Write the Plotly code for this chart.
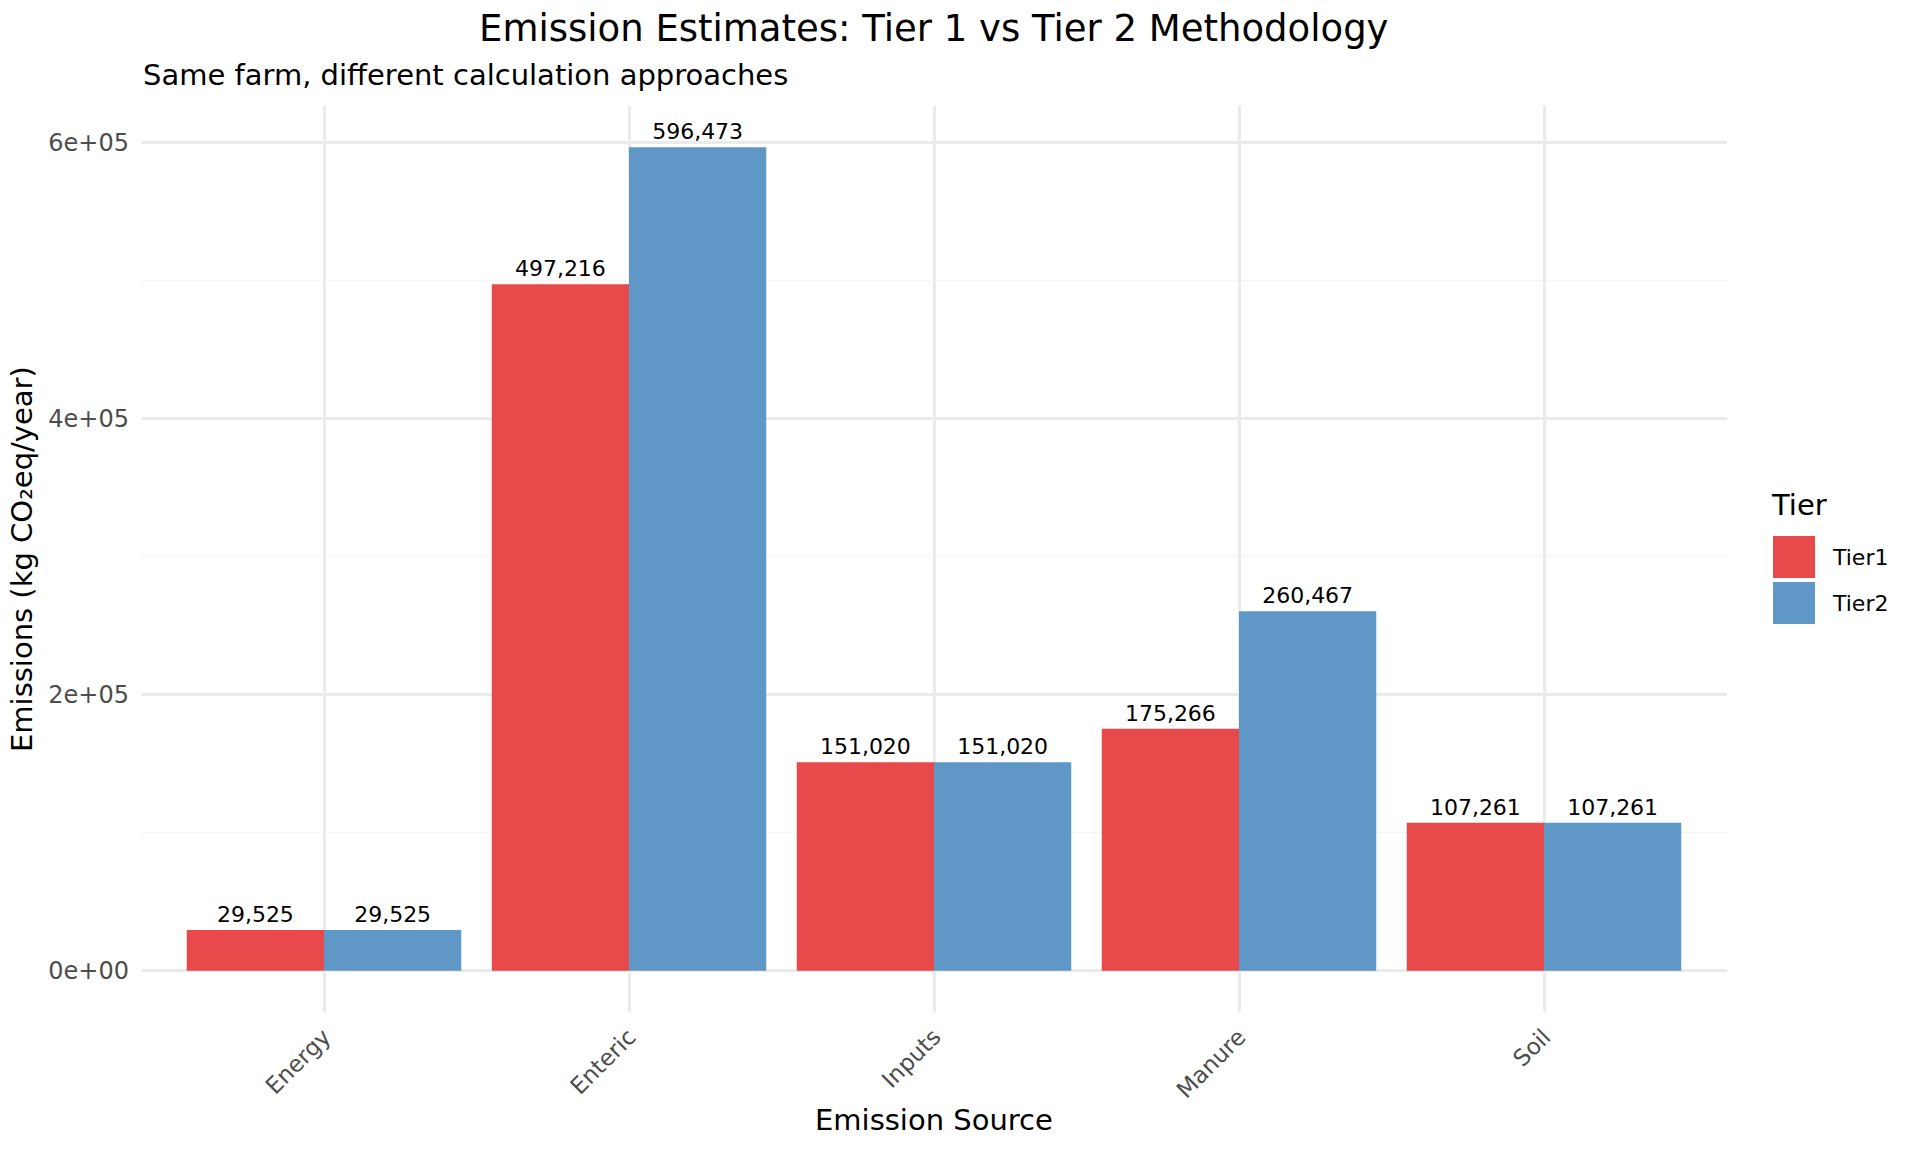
import plotly.graph_objects as go

# ---- data ----
sources = ["Energy", "Enteric", "Inputs", "Manure", "Soil"]
tier_names = ["Tier1", "Tier2"]
tier1_values = [29525, 497216, 151020, 175266, 107261]
tier2_values = [29525, 596473, 151020, 260467, 107261]
y_tick_vals = [0, 200000, 400000, 600000]
y_tick_text = ["0e+00", "2e+05", "4e+05", "6e+05"]
y_minor_vals = [100000, 300000, 500000]

title_text = "Emission Estimates: Tier 1 vs Tier 2 Methodology"
subtitle_text = "Same farm, different calculation approaches"
x_title = "Emission Source"
y_title = "Emissions (kg CO\u2082eq/year)"
legend_title = "Tier"

# ---- style ----
W, H = 1920, 1152
L, R, T, B = 141, 193, 106, 140
PW, PH = W - L - R, H - T - B
FONT = "DejaVu Sans"
colors = ["#E8494A", "#5F97C6"]
GRID = "#EBEBEB"

def px_x(x):
    return (x - L) / PW

def px_y(y):
    return 1 - (y - T) / PH

fig = go.Figure()
for name, vals, col in zip(tier_names, [tier1_values, tier2_values], colors):
    fig.add_trace(go.Bar(
        x=sources, y=vals, name=name,
        marker=dict(color=col, line=dict(width=0)),
        texttemplate="%{y:,}", textposition="outside",
        textfont=dict(family=FONT, size=22, color="#000000"),
        cliponaxis=False, showlegend=False,
    ))

ymax = max(tier1_values + tier2_values)
pad = 0.05 * ymax

fig.update_layout(
    width=W, height=H,
    margin=dict(l=L, r=R, t=T, b=B, autoexpand=False),
    paper_bgcolor="white", plot_bgcolor="white",
    barmode="group", bargap=0.1, bargroupgap=0,
    font=dict(family=FONT, color="#000000"),
    showlegend=False,
)
fig.update_xaxes(
    range=[-0.6, len(sources) - 0.4],
    showgrid=True, gridcolor=GRID, gridwidth=2.5,
    showline=False, zeroline=False, ticks="",
    tickangle=-45,
    tickfont=dict(family=FONT, size=23, color="#4D4D4D"),
    ticklabelstandoff=6,
)
fig.update_yaxes(
    range=[-pad, ymax + pad],
    tickmode="array", tickvals=y_tick_vals, ticktext=y_tick_text,
    showgrid=True, gridcolor=GRID, gridwidth=2.5,
    minor=dict(tickmode="array", tickvals=y_minor_vals,
               showgrid=True, gridcolor="#F4F4F4", gridwidth=1.3, ticks=""),
    showline=False, zeroline=False, ticks="",
    tickfont=dict(family=FONT, size=24, color="#4D4D4D"),
    ticklabelstandoff=11,
)

ann = []
ann.append(dict(text=title_text, xref="paper", yref="paper",
                x=0.5, y=px_y(29), xanchor="center", yanchor="middle",
                showarrow=False, font=dict(family=FONT, size=37, color="#000000")))
ann.append(dict(text=subtitle_text, xref="paper", yref="paper",
                x=0, y=px_y(75), xanchor="left", yanchor="middle",
                showarrow=False, font=dict(family=FONT, size=29, color="#000000")))
ann.append(dict(text=x_title, xref="paper", yref="paper",
                x=0.5, y=px_y(1120), xanchor="center", yanchor="middle",
                showarrow=False, font=dict(family=FONT, size=29, color="#000000")))
ann.append(dict(text=y_title, xref="paper", yref="paper",
                x=px_x(22), y=0.5, xanchor="center", yanchor="middle", textangle=-90,
                showarrow=False, font=dict(family=FONT, size=29, color="#000000")))
ann.append(dict(text=legend_title, xref="paper", yref="paper",
                x=px_x(1769), y=px_y(505), xanchor="left", yanchor="middle",
                showarrow=False, font=dict(family=FONT, size=29, color="#000000")))

shapes = []
key_tops = [536, 582]
for name, col, top in zip(tier_names, colors, key_tops):
    shapes.append(dict(type="rect", xref="paper", yref="paper",
                       x0=px_x(1773), x1=px_x(1815), y0=px_y(top), y1=px_y(top + 42),
                       fillcolor=col, line=dict(width=0)))
    ann.append(dict(text=name, xref="paper", yref="paper",
                    x=px_x(1830), y=px_y(top + 21), xanchor="left", yanchor="middle",
                    showarrow=False, font=dict(family=FONT, size=22, color="#000000")))

fig.update_layout(annotations=ann, shapes=shapes)
fig.write_html("out.html", config={"displayModeBar": False},
               post_script="document.body.style.margin='0';")
